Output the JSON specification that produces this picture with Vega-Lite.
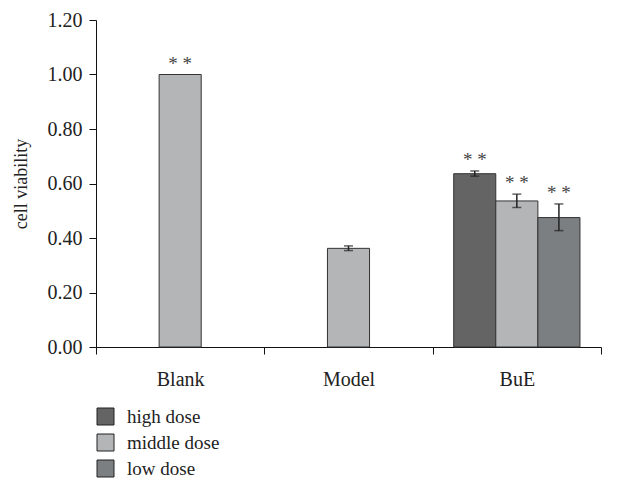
{
  "$schema": "https://vega.github.io/schema/vega-lite/v6.json",
  "width": 505,
  "height": 327,
  "autosize": {"type": "none"},
  "padding": {"left": 96, "top": 20, "right": 18, "bottom": 134},
  "background": "white",
  "config": {
    "view": {"stroke": null},
    "font": "Liberation Serif",
    "axis": {"grid": false, "domainColor": "#111", "tickColor": "#111", "labelColor": "#222", "titleColor": "#222", "labelFont": "Liberation Serif", "titleFont": "Liberation Serif", "titleFontWeight": "normal"}
  },
  "data": {
    "values": [
      {"group": "Blank", "dose": "middle dose", "value": 1.0, "lower": null, "upper": null, "top": 1.0, "sig": "* *"},
      {"group": "Model", "dose": "middle dose", "value": 0.362, "lower": 0.354, "upper": 0.371, "top": 0.371, "sig": ""},
      {"group": "BuE", "dose": "high dose", "value": 0.636, "lower": 0.627, "upper": 0.646, "top": 0.646, "sig": "* *"},
      {"group": "BuE", "dose": "middle dose", "value": 0.536, "lower": 0.512, "upper": 0.561, "top": 0.561, "sig": "* *"},
      {"group": "BuE", "dose": "low dose", "value": 0.475, "lower": 0.427, "upper": 0.525, "top": 0.525, "sig": "* *"}
    ]
  },
  "encoding": {
    "x": {
      "field": "group", "type": "nominal", "sort": ["Blank", "Model", "BuE"],
      "scale": {"paddingInner": 0, "paddingOuter": 0},
      "axis": {"title": null, "labelAngle": 0, "labelFontSize": 20, "labelPadding": 15, "tickBand": "extent", "tickSize": 7, "domainWidth": 1}
    },
    "xOffset": {
      "field": "dose", "type": "nominal", "sort": ["high dose", "middle dose", "low dose"],
      "scale": {"paddingInner": 0, "paddingOuter": 0.5}
    }
  },
  "layer": [
    {
      "mark": {"type": "bar", "stroke": "#333", "strokeWidth": 1},
      "encoding": {
        "y": {
          "field": "value", "type": "quantitative",
          "scale": {"domain": [0, 1.2], "nice": false},
          "axis": {"title": "cell viability", "values": [0, 0.2, 0.4, 0.6, 0.8, 1.0, 1.2], "format": ".2f", "labelFontSize": 20, "titleFontSize": 18, "tickSize": 7, "labelPadding": 7, "titlePadding": 17}
        },
        "color": {
          "field": "dose", "type": "nominal",
          "scale": {"domain": ["high dose", "middle dose", "low dose"], "range": ["#646464", "#b4b5b7", "#7c7f82"]},
          "legend": {
            "orient": "none", "legendX": 0, "legendY": 387, "title": null, "direction": "vertical",
            "symbolType": "square", "symbolSize": 289, "symbolStrokeColor": "#222", "symbolStrokeWidth": 1, "symbolOpacity": 1,
            "labelFont": "Liberation Serif", "labelFontSize": 19, "labelColor": "#222", "labelOffset": 12, "rowPadding": 5, "padding": 0
          }
        }
      }
    },
    {
      "mark": {"type": "rule", "color": "#222", "strokeWidth": 1.5},
      "encoding": {
        "y": {"field": "lower", "type": "quantitative"},
        "y2": {"field": "upper"}
      }
    },
    {
      "mark": {"type": "tick", "color": "#222", "size": 9, "thickness": 1.5},
      "encoding": {"y": {"field": "lower", "type": "quantitative"}}
    },
    {
      "mark": {"type": "tick", "color": "#222", "size": 9, "thickness": 1.5},
      "encoding": {"y": {"field": "upper", "type": "quantitative"}}
    },
    {
      "mark": {"type": "text", "baseline": "bottom", "dy": -1, "fontSize": 19, "color": "#444", "font": "Liberation Serif"},
      "encoding": {
        "y": {"field": "top", "type": "quantitative"},
        "text": {"field": "sig"}
      }
    }
  ]
}
